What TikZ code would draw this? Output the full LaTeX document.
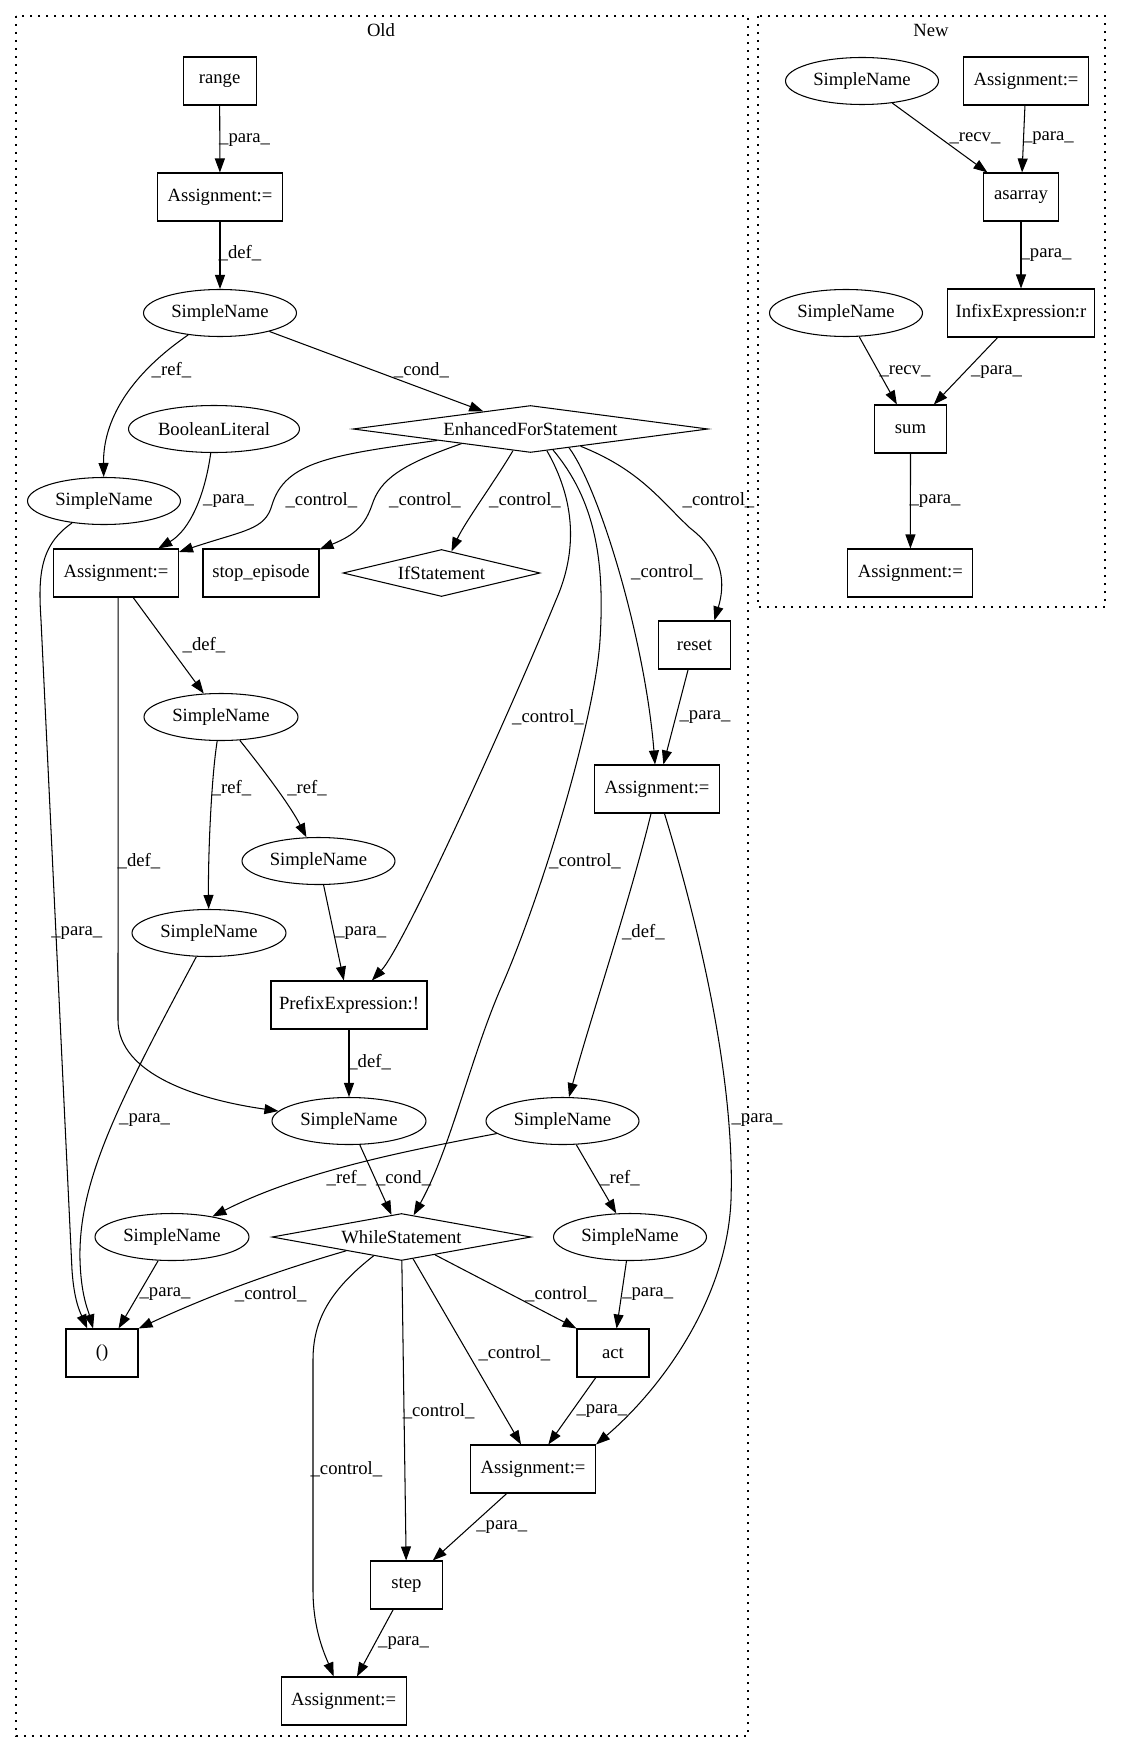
\documentclass[tikz,border=0pt]{standalone}
\usepackage{fontspec}
\setmainfont{Liberation Serif}
\usetikzlibrary{shapes.geometric,arrows.meta}
\newcommand\gvfont{\fontsize{18.67pt}{22pt}\selectfont}
\begin{document}
\begin{tikzpicture}[x=1pt,y=-1pt,
  every node/.style={font=\gvfont},
  box/.style={draw, rectangle, line width=1.05pt, minimum height=48pt, inner sep=0pt},
  ell/.style={draw, ellipse, line width=1.05pt, minimum height=47pt, inner sep=0pt},
  dia/.style={draw, diamond, line width=1.05pt, minimum height=47pt, inner sep=0pt},
  lab/.style={inner sep=0pt},
  arr/.style={draw, line width=1.05pt, -{Triangle[length=14pt,width=10pt]}},
  clus/.style={draw, line width=1.2pt, dash pattern=on 2pt off 6pt}]
\useasboundingbox (0,0) rectangle (1121,1752);
% clusters
\draw[clus] (16,16) rectangle (748,1736);
\draw[clus] (758,16) rectangle (1105,607);
\node[lab] (told) at (381,30) {Old};
\node[lab] (tnew) at (931,30) {New};
% Old nodes
\node[box, minimum width=73pt] (range) at (219.6,81) {range};
\node[box, minimum width=125pt] (a1) at (220,197) {Assignment:=};
\node[ell, minimum width=153pt] (sn1) at (220,313) {SimpleName};
\node[dia, minimum width=355pt, shape aspect=7.55] (efs) at (530.5,429) {EnhancedForStatement};
\node[ell, minimum width=171pt] (bool) at (214,429) {BooleanLiteral};
\node[ell, minimum width=153pt] (sn2) at (104,501) {SimpleName};
\node[box, minimum width=125pt] (a2) at (116,573) {Assignment:=};
\node[box, minimum width=116pt] (stop) at (261,573) {stop\_episode};
\node[dia, minimum width=197pt, shape aspect=4.19] (ifs) at (441.5,573) {IfStatement};
\node[box, minimum width=72pt] (reset) at (694.5,645) {reset};
\node[box, minimum width=125pt] (a3) at (657,789) {Assignment:=};
\node[ell, minimum width=154pt] (sn3) at (221,717) {SimpleName};
\node[ell, minimum width=153pt] (sn4) at (318.5,861) {SimpleName};
\node[ell, minimum width=154pt] (sn5) at (209,933) {SimpleName};
\node[box, minimum width=156pt] (pre) at (349,1005) {PrefixExpression:!};
\node[ell, minimum width=154pt] (sn6) at (349,1121) {SimpleName};
\node[ell, minimum width=153pt] (sn7) at (562.5,1121) {SimpleName};
\node[dia, minimum width=259pt, shape aspect=5.51] (wh) at (401.5,1237) {WhileStatement};
\node[ell, minimum width=154pt] (sn8) at (172,1237) {SimpleName};
\node[ell, minimum width=153pt] (sn9) at (630,1237) {SimpleName};
\node[box, minimum width=72pt] (par) at (102,1353) {()};
\node[box, minimum width=72pt] (act) at (613,1353) {act};
\node[box, minimum width=125pt] (a4) at (533,1469) {Assignment:=};
\node[box, minimum width=72pt] (stepn) at (406.5,1585) {step};
\node[box, minimum width=125pt] (a5) at (343.7,1701) {Assignment:=};
% New nodes
\node[ell, minimum width=153pt] (sna) at (862,81) {SimpleName};
\node[box, minimum width=125pt] (an1) at (1026,81) {Assignment:=};
\node[box, minimum width=75pt] (asa) at (1021,197) {asarray};
\node[ell, minimum width=153pt] (snb) at (846,313) {SimpleName};
\node[box, minimum width=147pt] (inf) at (1021,313) {InfixExpression:r};
\node[box, minimum width=72pt] (sum) at (910.5,429) {sum};
\node[box, minimum width=125pt] (an2) at (910.4,573) {Assignment:=};
% Old edges
\draw[arr] (range) -- (a1);
\draw[arr] (a1) -- (sn1);
\draw[arr] (sn1) .. controls (130,375) and (103,420) .. (sn2);
\draw[arr] (sn1) -- (efs);
\draw[arr] (bool) .. controls (205,495) and (190,530) .. (a2);
\draw[arr] (efs.187) .. controls (330,455) and (285,462) .. (272,505) .. controls (265,530) and (245,530) .. (a2);
\draw[arr] (efs.192) .. controls (400,465) and (380,480) .. (372,505) .. controls (365,525) and (355,535) .. (stop);
\draw[arr] (efs.231) .. controls (497,478) and (465,522) .. (ifs);
\draw[arr] (efs.-53) .. controls (575,500) and (578,550) .. (556,600) .. controls (515,700) and (405,945) .. (pre);
\draw[arr] (efs.-43) .. controls (595,500) and (605,560) .. (600,640) .. controls (595,720) and (540,900) .. (500,990) .. controls (470,1060) and (450,1150) .. (wh);
\draw[arr] (efs.-26) .. controls (600,490) and (645,640) .. (a3);
\draw[arr] (efs.-19) .. controls (640,470) and (660,500) .. (690,528) .. controls (725,555) and (725,585) .. (reset.51);
\draw[arr] (reset) -- (a3);
\draw[arr] (a2.-55) -- (sn3);
\draw[arr] (a2.-85) -- (118,1020) .. controls (118,1075) and (200,1100) .. (sn6);
\draw[arr] (sn2) .. controls (40,545) and (38,575) .. (41,620) -- (72,1270) .. controls (74,1300) and (80,1312) .. (par.121);
\draw[arr] (sn5) .. controls (120,1100) and (78,1180) .. (80,1260) .. controls (81,1295) and (88,1310) .. (par.110);
\draw[arr] (sn4) -- (pre);
\draw[arr] (sn3) .. controls (211,780) and (208,860) .. (sn5);
\draw[arr] (sn3) .. controls (262,768) and (290,805) .. (sn4);
\draw[arr] (pre) -- (sn6);
\draw[arr] (sn6) -- (wh);
\draw[arr] (a3) .. controls (630,900) and (590,1020) .. (sn7);
\draw[arr] (a3) .. controls (700,930) and (735,1080) .. (731,1200) .. controls (727,1300) and (660,1390) .. (a4.north east);
\draw[arr] (sn7) .. controls (400,1152) and (300,1172) .. (sn8);
\draw[arr] (sn7) -- (sn9);
\draw[arr] (sn8) -- (par.56);
\draw[arr] (wh.194) .. controls (280,1270) and (215,1293) .. (par.north east);
\draw[arr] (wh.214) .. controls (330,1290) and (313,1320) .. (313,1360) -- (313,1590) .. controls (313,1630) and (325,1655) .. (a5);
\draw[arr] (wh) -- (stepn);
\draw[arr] (wh.-62) -- (a4.116);
\draw[arr] (wh.-28) -- (act.north west);
\draw[arr] (sn9) -- (act);
\draw[arr] (act.-125) -- (a4.58);
\draw[arr] (a4.-137) -- (stepn.43);
\draw[arr] (stepn) -- (a5);
% New edges
\draw[arr] (sna) -- (asa);
\draw[arr] (an1) -- (asa);
\draw[arr] (asa) -- (inf);
\draw[arr] (snb) -- (sum);
\draw[arr] (inf) -- (sum);
\draw[arr] (sum) -- (an2);
% labels Old
\node[lab] (l1) at (244.6,139.7) {\_para\_};
\node[lab] (l2) at (240,253) {\_def\_};
\node[lab] (l3) at (171.4,370.5) {\_ref\_};
\node[lab] (l4) at (421.4,370.5) {\_cond\_};
\node[lab] (l5) at (228.6,500.6) {\_para\_};
\node[lab] (l6) at (321.4,500.6) {\_control\_};
\node[lab] (l7) at (425,500.6) {\_control\_};
\node[lab] (l8) at (525,500.6) {\_control\_};
\node[lab] (l9) at (718.5,500.2) {\_control\_};
\node[lab] (l10) at (667,572) {\_control\_};
\node[lab] (l11) at (705,717) {\_para\_};
\node[lab] (l12) at (204,645) {\_def\_};
\node[lab] (l13) at (231.4,788.3) {\_ref\_};
\node[lab] (l14) at (307,788) {\_ref\_};
\node[lab] (l15) at (139,861.4) {\_def\_};
\node[lab] (l16) at (76.8,933) {\_para\_};
\node[lab] (l17) at (360.7,933) {\_para\_};
\node[lab] (l18) at (548,717) {\_control\_};
\node[lab] (l19) at (585,861) {\_control\_};
\node[lab] (l20) at (643.4,932) {\_def\_};
\node[lab] (l21) at (369.6,1062) {\_def\_};
\node[lab] (l22) at (144.6,1120.5) {\_para\_};
\node[lab] (l23) at (757,1120.5) {\_para\_};
\node[lab] (l24) at (346.4,1178) {\_ref\_};
\node[lab] (l25) at (403.6,1178) {\_cond\_};
\node[lab] (l26) at (620,1178) {\_ref\_};
\node[lab] (l27) at (165,1294.3) {\_para\_};
\node[lab] (l28) at (270.7,1294.3) {\_control\_};
\node[lab] (l29) at (561,1294.3) {\_control\_};
\node[lab] (l30) at (647.7,1294.3) {\_para\_};
\node[lab] (l31) at (514.3,1353) {\_control\_};
\node[lab] (l32) at (438.6,1411.2) {\_control\_};
\node[lab] (l33) at (601.9,1411.2) {\_para\_};
\node[lab] (l34) at (346.4,1469.3) {\_control\_};
\node[lab] (l35) at (501.8,1527.4) {\_para\_};
\node[lab] (l36) at (403.6,1643.5) {\_para\_};
% labels New
\node[lab] (l37) at (975,138.4) {\_recv\_};
\node[lab] (l38) at (1048.4,138.4) {\_para\_};
\node[lab] (l39) at (1046,255) {\_para\_};
\node[lab] (l40) at (905,371.7) {\_recv\_};
\node[lab] (l41) at (996.5,371.7) {\_para\_};
\node[lab] (l42) at (935,501.4) {\_para\_};
\end{tikzpicture}
\end{document}
